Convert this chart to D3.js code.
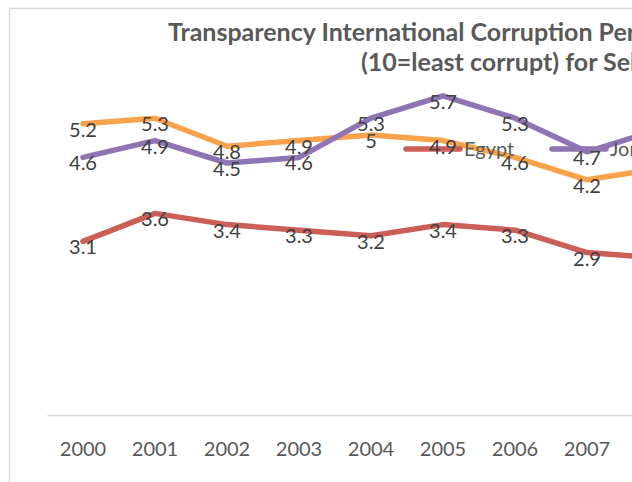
<!DOCTYPE html>
<html>
<head>
<meta charset="utf-8">
<script src="https://cdn.jsdelivr.net/npm/d3@7"></script>
<style>
  body { margin: 0; background: #fff; }
  svg { display: block; }
</style>
</head>
<body>
<div class="wrapper"></div>
<script>
var years = ["2000", "2001", "2002", "2003", "2004", "2005", "2006", "2007", "2008"];
var egypt = [3.1, 3.6, 3.4, 3.3, 3.2, 3.4, 3.3, 2.9, 2.8];
var jordan = [4.6, 4.9, 4.5, 4.6, 5.3, 5.7, 5.3, 4.7, 5.1];
var tunisia = [5.2, 5.3, 4.8, 4.9, 5, 4.9, 4.6, 4.2, 4.4];
var seriesNames = ["Egypt", "Jordan", "Tunisia"];
var titleLines = [
  "Transparency International Corruption Perceptions Index",
  "(10=least corrupt) for Selected Countries"
];

var width = 632, height = 482;
var colors = { Egypt: "#cb5f57", Jordan: "#8f74b3", Tunisia: "#f9a24c" };
var series = [
  { name: "Tunisia", values: tunisia },
  { name: "Jordan", values: jordan },
  { name: "Egypt", values: egypt }
];

var svg = d3.select(".wrapper").append("svg")
  .attr("width", width)
  .attr("height", height);

// chart frame (only the left and top edges are in view)
svg.append("rect")
  .attr("x", 9.5).attr("y", 8.5)
  .attr("width", 900).attr("height", 600)
  .attr("fill", "#fff")
  .attr("stroke", "#d9d9d9")
  .attr("stroke-width", 1.5);

// title, cut by the window on the right
svg.append("g").selectAll("text")
  .data(titleLines)
  .enter().append("text")
  .attr("x", (d, i) => i === 0 ? 168 : 361)
  .attr("y", (d, i) => i === 0 ? 41 : 71)
  .attr("font-family", "Lato")
  .attr("font-weight", "bold")
  .attr("font-size", 25)
  .attr("fill", "#595959")
  .text(d => d);

var x = d3.scaleBand().domain(years).range([47, 47 + 72 * years.length]);
var y = d3.scaleLinear().domain([0, 6]).range([415, 79]);

// baseline gridline + category labels
var xAxis = svg.append("g")
  .attr("transform", "translate(0," + y(0) + ")")
  .call(d3.axisBottom(x).tickSize(0).tickPadding(27));
xAxis.select(".domain").attr("stroke", "#d9d9d9").attr("stroke-width", 1.5);
xAxis.selectAll(".tick text")
  .attr("font-family", "Lato")
  .attr("font-size", 20)
  .attr("fill", "#595959");

var line = d3.line()
  .x((d, i) => x(years[i]) + x.bandwidth() / 2)
  .y(d => y(d));

svg.append("g").selectAll("path")
  .data(series)
  .enter().append("path")
  .attr("d", d => line(d.values))
  .attr("fill", "none")
  .attr("stroke", d => colors[d.name])
  .attr("stroke-width", 5.5)
  .attr("stroke-linejoin", "round")
  .attr("stroke-linecap", "round");

// legend inside plot
var legend = svg.append("g").selectAll("g")
  .data(seriesNames)
  .enter().append("g")
  .attr("transform", (d, i) => "translate(" + (406 + i * 146) + ",149)");
legend.append("line")
  .attr("x1", 0).attr("x2", 54)
  .attr("stroke", d => colors[d])
  .attr("stroke-width", 5.5)
  .attr("stroke-linecap", "round");
legend.append("text")
  .attr("x", 58).attr("y", 7)
  .attr("font-family", "Lato")
  .attr("font-size", 20)
  .attr("fill", "#595959")
  .text(d => d);

// data labels
series.forEach(s => {
  svg.append("g").selectAll("text")
    .data(s.values)
    .enter().append("text")
    .attr("x", (d, i) => x(years[i]) + x.bandwidth() / 2)
    .attr("y", d => y(d) + 13)
    .attr("text-anchor", "middle")
    .attr("font-family", "Lato")
    .attr("font-size", 20)
    .attr("fill", "#404040")
    .text(d => d);
});
</script>
</body>
</html>
